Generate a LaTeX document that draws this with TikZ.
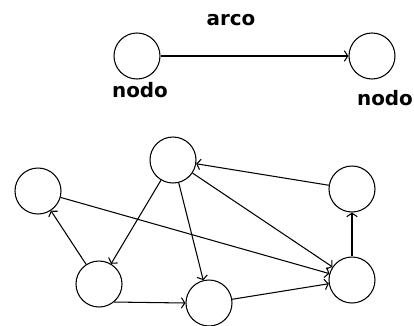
\documentclass[tikz,border=0pt]{standalone}
\usepackage{fontspec}
\setmainfont{DejaVu Sans}
\usetikzlibrary{arrows.meta}
\tikzset{nodo/.style={circle,draw,line width=0.9pt,minimum size=1.38cm,inner sep=0pt},
    arco/.style={line width=0.9pt,-{Straight Barb[length=3pt,width=9pt]}},
    etiqueta/.style={font=\bfseries\fontsize{17}{17}\selectfont}
}

\begin{document}
\begin{tikzpicture}[x=0.03cm,y=-0.03cm]
                \useasboundingbox (0,0) rectangle (414,325);
                % arriba
                \node[nodo] (n1) at (137,56) {};
                \node[nodo] (n2) at (372,56) {};
                \draw[arco] (n1) -- (n2);
                \node[etiqueta] (arco) at (231,20) {arco};
                \node[etiqueta] (nodo1) at (140,90) {nodo};
                \node[etiqueta] (nodo2) at (385,98) {nodo};
                
                % grafo
                \node[nodo] (a) at (173,160) {};
                \node[nodo] (b) at (38,191) {};
                \node[nodo] (c) at (99,284) {};
                \node[nodo] (d) at (209,303) {};
                \node[nodo] (e) at (352,189) {};
                \node[nodo] (f) at (352,280) {};
                
                \draw[arco] (e) -- (a);
                \draw[arco] (a) -- (c);
                \draw[arco] (a) -- (d);
                \draw[arco] (a) -- (f);
                \draw[arco] (b) -- (f);
                \draw[arco] (c) -- (b);
                \draw[arco] (c.-50) -- (d.west);
                \draw[arco] (d) -- (f);
                \draw[arco] (f) -- (e);
\end{tikzpicture}
\end{document}
